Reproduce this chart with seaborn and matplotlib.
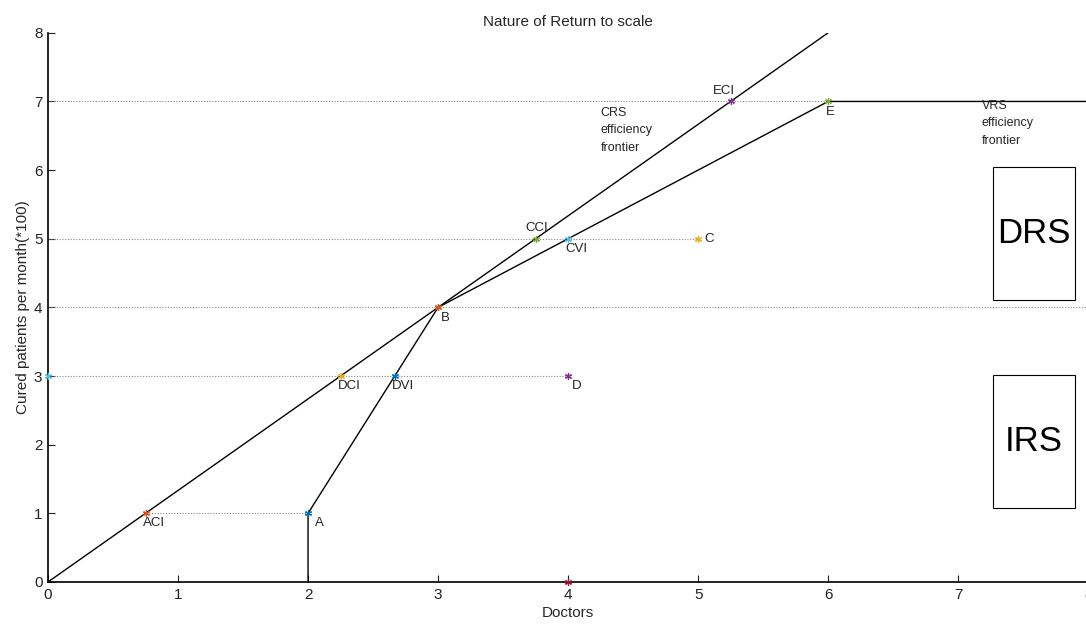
import numpy as np
import pandas as pd
import seaborn as sns
import matplotlib.pyplot as plt
from matplotlib.patches import Rectangle

# Frontier lines
crs_x = [0, 6]
crs_y = [0, 8]
vrs_x = [2, 2, 3, 6, 8]
vrs_y = [0, 1, 4, 7, 7]

# Points (name, x, y, colour)
pt_names = ['A', 'ACI', 'B', 'C', 'CCI', 'CVI', 'D', 'DCI', 'DVI', 'E', 'ECI', '', '']
pt_x = [2, 0.75, 3, 5, 3.75, 4, 4, 2.25, 2.667, 6, 5.25, 0, 4]
pt_y = [1, 1, 4, 5, 5, 5, 3, 3, 3, 7, 7, 3, 0]
pt_colors = ['#0072BD', '#D95319', '#D95319', '#EDB120', '#77AC30', '#4DBEEE',
             '#7E2F8E', '#EDB120', '#0072BD', '#77AC30', '#7E2F8E', '#4DBEEE', '#A2142F']

# Dotted guide lines (y, x start, x end)
guide_y = [7, 5, 4, 3, 1]
guide_x0 = [0, 0, 0, 0, 0.75]
guide_x1 = [6, 5, 8, 4, 2]

# label offsets in data units
lab_dx = [0.05, -0.02, 0.02, 0.05, -0.08, -0.02, 0.03, -0.02, -0.02, -0.02, -0.14, 0, 0]
lab_dy = [-0.06, -0.06, -0.06, 0.0, 0.07, -0.06, -0.06, -0.06, -0.06, -0.06, 0.07, 0, 0]

sns.set_theme(style="white")
plt.rcParams['font.family'] = ['Liberation Sans', 'DejaVu Sans']

fig = plt.figure(figsize=(10.86, 6.31), dpi=100)
ax = fig.add_axes([0.0442, 0.0777, 0.9578, 0.8703])

for y, x0, x1 in zip(guide_y, guide_x0, guide_x1):
    ax.plot([x0, x1], [y, y], linestyle=(0, (1, 1.5)), color='#888888', lw=0.8, zorder=1)

sns.lineplot(x=crs_x, y=crs_y, color='black', lw=1, ax=ax, sort=False, estimator=None)
sns.lineplot(x=vrs_x, y=vrs_y, color='black', lw=1, ax=ax, sort=False, estimator=None)

pts = pd.DataFrame({'name': pt_names, 'x': pt_x, 'y': pt_y, 'c': pt_colors})
for _, r in pts.iterrows():
    ax.plot(r['x'], r['y'], marker=(6, 2, 0), color=r['c'], ms=5, mew=0.9, zorder=5, clip_on=False)

for n, x, y, dx, dy in zip(pt_names, pt_x, pt_y, lab_dx, lab_dy):
    if n:
        va = 'bottom' if dy > 0 else ('center' if dy == 0 else 'top')
        ax.text(x + dx, y + dy, n, fontsize=9.5, ha='left', va=va, color='#222222')

ax.text(4.25, 6.92, "CRS\nefficiency\nfrontier", fontsize=9, ha='left', va='top', linespacing=1.6)
ax.text(7.18, 7.02, "VRS\nefficiency\nfrontier", fontsize=9, ha='left', va='top', linespacing=1.6)

ax.add_patch(Rectangle((7.27, 4.11), 0.63, 1.94, fill=False, edgecolor='black', lw=0.8))
ax.text(7.585, 5.08, "DRS", fontsize=25, ha='center', va='center', color='black')
ax.add_patch(Rectangle((7.27, 1.08), 0.63, 1.94, fill=False, edgecolor='black', lw=0.8))
ax.text(7.585, 2.05, "IRS", fontsize=25, ha='center', va='center', color='black')

ax.set_xlim(0, 8)
ax.set_ylim(0, 8)
ax.set_xticks(range(0, 9))
ax.set_yticks(range(0, 9))
ax.tick_params(direction='in', length=5, width=0.8, labelsize=11, colors='#222222',
               left=True, bottom=True, pad=4)
for s in ['top', 'right']:
    ax.spines[s].set_visible(False)
for s in ['left', 'bottom']:
    ax.spines[s].set_color('black')
    ax.spines[s].set_linewidth(1.2)

ax.set_xlabel('Doctors', fontsize=11, labelpad=3)
ax.set_ylabel('Cured patients per month(*100)', fontsize=11, labelpad=3)
ax.set_title('Nature of Return to scale', fontsize=11, pad=5)

fig.savefig('out.png', dpi=100)
